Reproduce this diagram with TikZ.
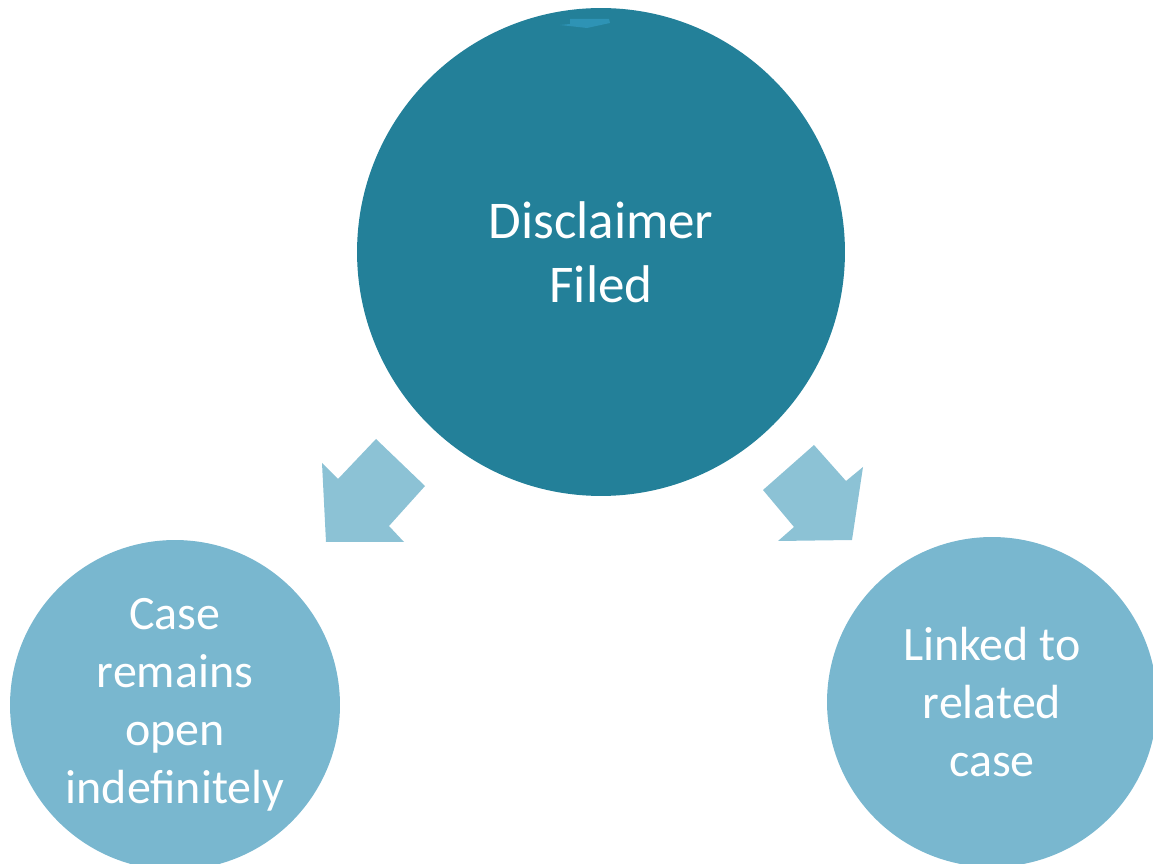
\documentclass[tikz,border=0pt]{standalone}
\usepackage{fontspec}
\setmainfont{Carlito}
\definecolor{darkteal}{RGB}{35,128,153}
\definecolor{lightteal}{RGB}{121,183,207}
\definecolor{arrowblue}{RGB}{140,194,213}
\definecolor{markblue}{RGB}{46,147,181}

\begin{document}
\begin{tikzpicture}[x=0.02cm,y=-0.02cm]
    \useasboundingbox (0,0) rectangle (1153,864);

    \node[shape=circle,fill=darkteal,minimum size=9.76cm,text=white,align=center,font=\fontsize{30.2}{36.3}\selectfont] (Filed) at (601,252) {Disclaimer\\Filed};
    \node[shape=circle,fill=lightteal,minimum size=6.6cm,text=white,align=center,font=\fontsize{27.3}{33}\selectfont] (Open) at (175,705) {Case\\remains\\open\\indefinitely};
    \node[shape=circle,fill=lightteal,minimum size=6.6cm,text=white,align=center,font=\fontsize{27.3}{33}\selectfont] (Linked) at (992,702) {Linked to\\related\\case};

    \fill[color=markblue] (560,25) -- (570,24) -- (570,19) -- (609,19) -- (610,23) -- (587,28) -- cycle;

    \fill[color=arrowblue] (322,463) -- (338,479) -- (376,439) -- (425,486) -- (389,526) -- (404,542) -- (326,542) -- cycle;
    \fill[color=arrowblue] (814,445) -- (846,481) -- (863,467) -- (852,540) -- (778,541) -- (794,527) -- (763,490) -- cycle;

\end{tikzpicture}
\end{document}
